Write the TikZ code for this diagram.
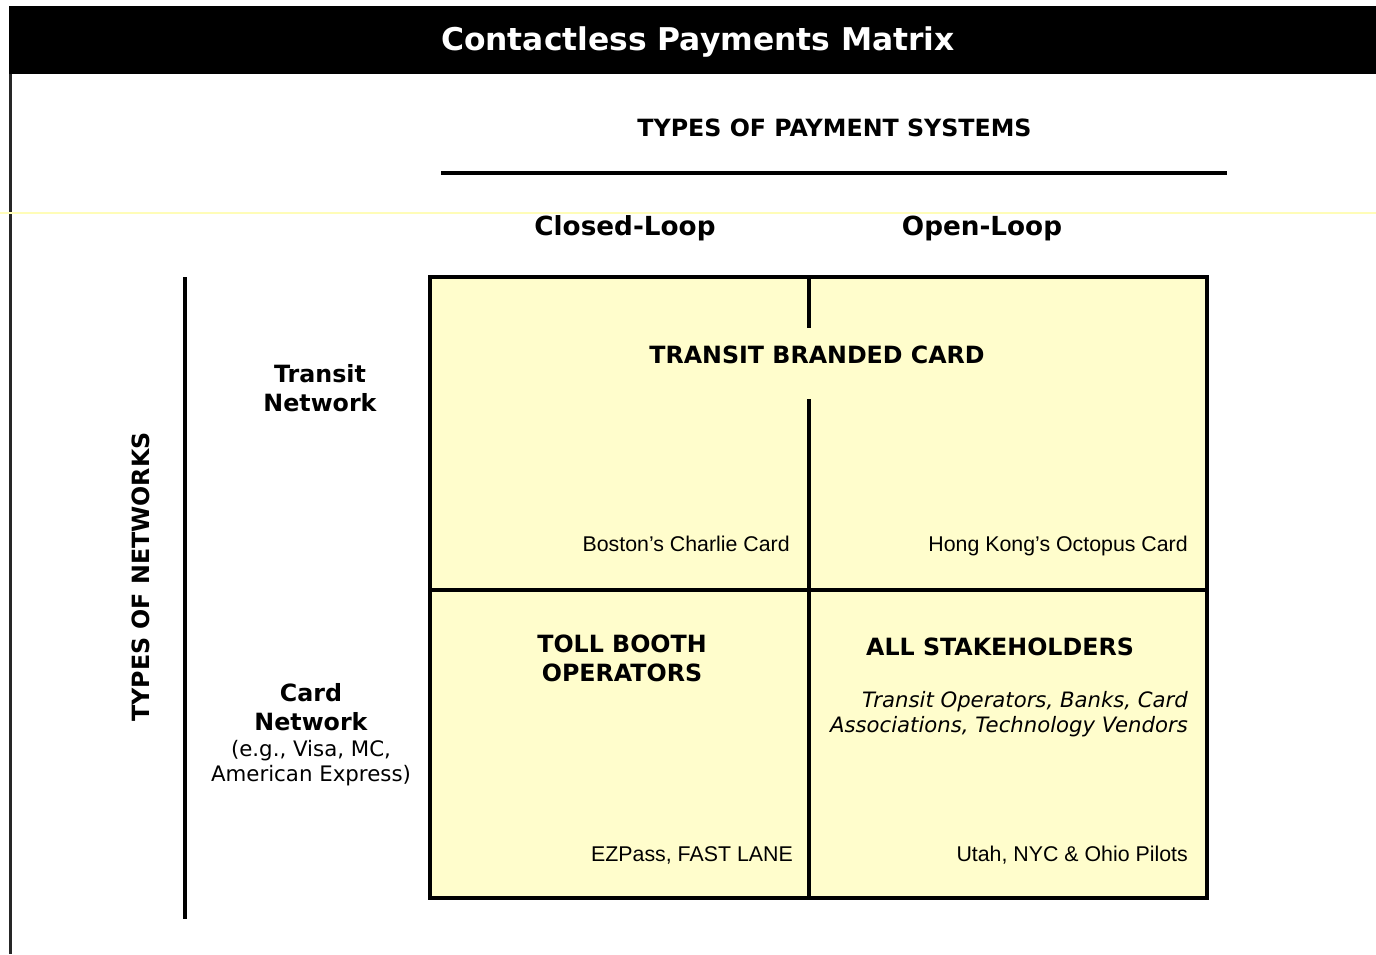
\documentclass[tikz,border=0pt]{standalone}
\usepackage{fontspec}
\setmainfont{DejaVu Sans}
\newfontfamily\arialfont{Liberation Sans}
\definecolor{cellfill}{HTML}{FFFDCC}
\definecolor{faintline}{HTML}{FFFDB8}
\begin{document}
\begin{tikzpicture}[x=0.75pt,y=-0.75pt,
  heavy/.style={line width=3pt,black},
  headbold/.style={font=\bfseries\fontsize{17.8}{21.6}\selectfont,inner sep=0pt,align=center},
  cellnote/.style={font=\arialfont\fontsize{16}{20}\selectfont,inner sep=0pt,anchor=base east},
  smallnote/.style={font=\fontsize{16}{18.75}\selectfont,inner sep=0pt,align=center}]
\useasboundingbox (0,0) rectangle (1376,954);
\fill[white] (0,0) rectangle (1376,954);
% title bar and left border
\fill[black] (9,6) rectangle (1376,74);
\fill[black!85] (9,74) rectangle (12,954);
\node[anchor=base,text=white,font=\bfseries\fontsize{23.5}{28}\selectfont,inner sep=0pt] (title) at (698,50) {Contactless Payments Matrix};
% faint separator
\draw[faintline,line width=0.9pt] (0,213) -- (1376,213);
% column header
\node[anchor=base,headbold] (psys) at (834.5,136) {TYPES OF PAYMENT SYSTEMS};
\draw[heavy] (441,172.5) -- (1227,172.5);
\node[anchor=base,headbold,font=\bfseries\fontsize{19.7}{24}\selectfont] (closed) at (625,235) {Closed-Loop};
\node[anchor=base,headbold,font=\bfseries\fontsize{19.7}{24}\selectfont] (open) at (982,235) {Open-Loop};
% row header (base anchor of a multi-line node sits on its last line)
\draw[heavy] (185,277) -- (185,919);
\node[rotate=90,anchor=base,headbold] (nets) at (149,577) {TYPES OF NETWORKS};
\node[anchor=base,headbold] (transitnet) at (320,411) {Transit\\Network};
\node[anchor=base,headbold] (cardnet) at (311,730) {Card\\Network};
\node[anchor=base,smallnote] (cardeg) at (311,781) {(e.g., Visa, MC,\\American Express)};
% matrix cells
\fill[cellfill] (430,277) rectangle (1207,898);
\draw[heavy] (430,277) rectangle (1207,898);
\draw[heavy] (430,590) -- (1207,590);
\draw[heavy] (809,277) -- (809,328);
\draw[heavy] (809,399) -- (809,898);
% cell texts
\node[anchor=base,headbold] (tbc) at (817,363) {TRANSIT BRANDED CARD};
\node[cellnote] (boston) at (790,551) {Boston’s Charlie Card};
\node[cellnote] (hk) at (1188,551) {Hong Kong’s Octopus Card};
\node[anchor=base,headbold] (toll) at (622,681) {TOLL BOOTH\\OPERATORS};
\node[anchor=base,headbold] (all) at (1000,655) {ALL STAKEHOLDERS};
\node[anchor=base east,inner sep=0pt,align=right,font=\itshape\fontsize{15.9}{18.75}\selectfont] (stake) at (1188,732) {Transit Operators, Banks, Card\\Associations, Technology Vendors};
\node[cellnote] (ez) at (793,861) {EZPass, FAST LANE};
\node[cellnote] (utah) at (1188,861) {Utah, NYC \& Ohio Pilots};
\end{tikzpicture}
\end{document}
